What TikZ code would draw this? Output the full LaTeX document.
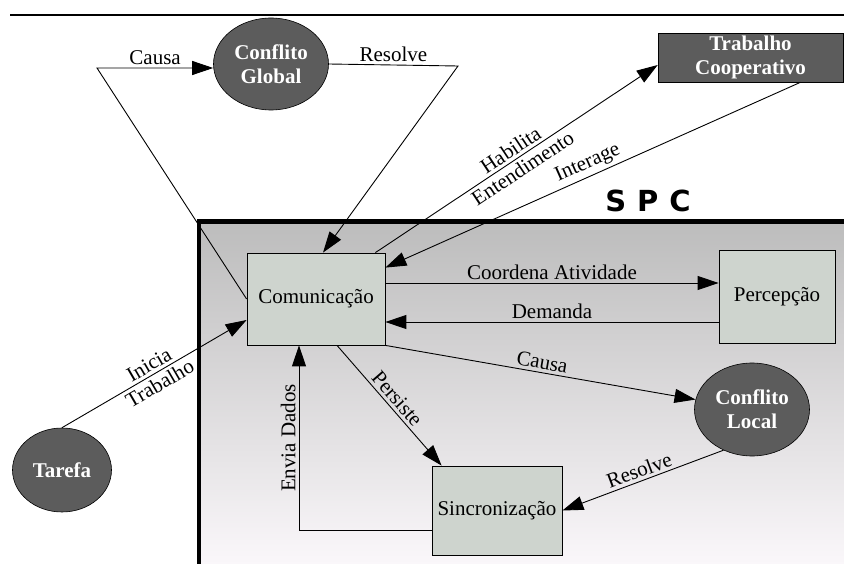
\documentclass[tikz,border=0pt]{standalone}
\usepackage{fontspec}
\setmainfont{Liberation Serif}
\newfontfamily\spcfont{DejaVu Sans}
\usetikzlibrary{arrows.meta,shapes.geometric,calc}

\definecolor{boxfill}{RGB}{206,212,206}
\definecolor{darkfill}{RGB}{92,92,92}
\definecolor{spctop}{RGB}{188,188,188}
\definecolor{spcbot}{RGB}{250,247,250}

\begin{document}
\begin{tikzpicture}[x=1pt,y=-1pt,
  every node/.style={font=\fontsize{21}{24}\selectfont, inner sep=0pt},
  lightbox/.style={rectangle, draw=black, line width=0.8pt, fill=boxfill, align=center},
  darkellipse/.style={ellipse, draw=black, line width=0.6pt, fill=darkfill, text=white,
    font=\fontsize{21}{24}\selectfont\bfseries, align=center},
  darkbox/.style={rectangle, draw=black, line width=0.6pt, fill=darkfill, text=white,
    font=\fontsize{21}{24}\selectfont\bfseries, align=center},
  link/.style={line width=0.9pt, draw=black},
  arr/.style={link, -{Triangle[length=21pt,width=14pt]}},
  lbl/.style={font=\fontsize{21}{24}\selectfont, inner sep=3pt},
]
\useasboundingbox (0,0) rectangle (844,564);

% shaded system region with its heavy frame
\shade[top color=spctop, bottom color=spcbot] (197,220) rectangle (844,564);
\draw[line width=4.5pt, line join=miter] (199,564) -- (199,221.5) -- (844,221.5);
\node[font=\spcfont\fontsize{29}{29}\selectfont\bfseries] (spc) at (648,201) {S\hspace{11pt}P\hspace{11pt}C};

% top rule
\draw[line width=1.4pt] (10,15) -- (844,15);

% nodes
\node[lightbox, minimum width=138pt, minimum height=92pt] (com) at (316,299) {Comunicação};
\node[lightbox, minimum width=116pt, minimum height=93pt] (perc) at (777,296.5) {Percepção};
\node[lightbox, minimum width=130pt, minimum height=89pt] (sinc) at (497,510.5) {Sincronização};
\node[darkbox, minimum width=185pt, minimum height=49pt] (trab) at (750.5,57.5) {Trabalho\\Cooperativo};
\node[darkellipse, minimum width=115pt, minimum height=92pt] (cg) at (271,64) {Conflito\\Global};
\node[darkellipse, minimum width=115pt, minimum height=93pt] (cl) at (752,409.5) {Conflito\\Local};
\node[darkellipse, minimum width=99pt, minimum height=84pt] (tar) at (62,470) {Tarefa};

% global conflict loop
\coordinate (cgcorner) at (97,68);
\coordinate (rescorner) at (458,66);
\draw[arr] (com.west) -- (cgcorner) -- node[lbl, above]{Causa} ([yshift=-4pt]cg.west);
\draw[arr] (cg.east) -- node[lbl, above]{Resolve} (rescorner) -- ([xshift=7pt]com.north);

% cooperative work
\draw[arr] ([xshift=-10pt]com.north east) -- node[lbl, sloped, above]{Habilita}
  node[lbl, sloped, below]{Entendimento} ([yshift=-7.5pt]trab.west);
\draw[arr] ([xshift=50pt]trab.south) -- node[lbl, sloped, above]{Interage} ([yshift=-15pt]com.north east);

% communication and awareness
\coordinate (c1) at ([yshift=16pt]com.east);
\coordinate (c2) at ([yshift=-23pt]com.east);
\draw[arr] (c1) -- node[lbl, above]{Coordena Atividade} (c1 -| perc.west);
\draw[arr] (c2 -| perc.west) -- node[lbl, above]{Demanda} (c2);

% local conflict and synchronization
\draw[arr] (com.south east) -- node[lbl, sloped, above]{Causa} (cl.170);
\draw[arr] (cl.235) -- node[lbl, sloped, above]{Resolve} (sinc.east);
\draw[arr] ([xshift=21pt]com.south) -- node[lbl, sloped, above]{Persiste} ([xshift=10pt]sinc.north west);
\draw[arr] ([yshift=-20pt]sinc.west) -| node[lbl, sloped, above, pos=0.75]{Envia Dados} ([xshift=-17pt]com.south);

% task
\draw[arr] (tar.north) -- node[lbl, sloped, above]{Inicia} node[lbl, sloped, below]{Trabalho} ([yshift=-21pt]com.west);
\end{tikzpicture}
\end{document}
